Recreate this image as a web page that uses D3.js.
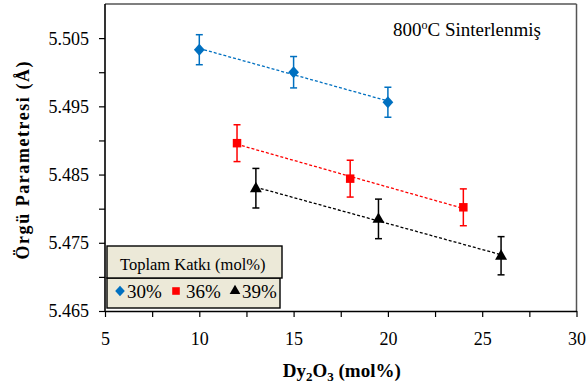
<!DOCTYPE html>
<html>
<head>
<meta charset="utf-8">
<script src="https://cdn.jsdelivr.net/npm/d3@7"></script>
<style>
  html, body { margin: 0; padding: 0; background: #fff; }
  svg { display: block; }
</style>
</head>
<body>
<svg id="chart" width="587" height="387"></svg>
<script>
// Lattice parameter vs Dy2O3 content, sintered at 800 °C
const FONT = "Liberation Serif";

const seriesNames = ["30%", "36%", "39%"];
const seriesColors = ["#0070C0", "#FF0000", "#000000"];
const seriesSymbols = ["diamond", "square", "triangle"];

const dy30 = [10, 15, 20];
const a30 = [5.5033, 5.5000, 5.4956];
const err30 = [0.0022, 0.0023, 0.0022];

const dy36 = [12, 18, 24];
const a36 = [5.4896, 5.4844, 5.4802];
const err36 = [0.0027, 0.0027, 0.0027];

const dy39 = [13, 19.5, 26];
const a39 = [5.4830, 5.4785, 5.4731];
const err39 = [0.0029, 0.0029, 0.0028];

const xTicks = [5, 7.5, 10, 12.5, 15, 17.5, 20, 22.5, 25, 27.5, 30];
const xTickLabels = [5, 10, 15, 20, 25, 30];
const yTicks = [5.465, 5.470, 5.475, 5.480, 5.485, 5.490, 5.495, 5.500, 5.505];
const yTickLabels = [5.465, 5.475, 5.485, 5.495, 5.505];

const series = [
  { x: dy30, y: a30, e: err30 },
  { x: dy36, y: a36, e: err36 },
  { x: dy39, y: a39, e: err39 }
].map((s, i) => ({ ...s, name: seriesNames[i], color: seriesColors[i], symbol: seriesSymbols[i] }));

const svg = d3.select("#chart").attr("font-family", FONT);
const plot = { left: 105, right: 576.5, top: 4, bottom: 311 };

const x = d3.scaleLinear().domain([5, 30]).range([plot.left, plot.right]);
const y = d3.scaleLinear().domain([5.465, 5.510]).range([plot.bottom, plot.top]);

// Frame: top and right edges of the plot area
svg.append("line").attr("x1", plot.left).attr("x2", plot.right)
  .attr("y1", plot.top).attr("y2", plot.top)
  .attr("stroke", "#000").attr("stroke-width", 1.2);
svg.append("line").attr("x1", plot.right).attr("x2", plot.right)
  .attr("y1", plot.top).attr("y2", plot.bottom)
  .attr("stroke", "#555").attr("stroke-width", 1.5);

// Axes
const xAxis = d3.axisBottom(x).tickValues(xTicks).tickSizeInner(6).tickSizeOuter(0)
  .tickFormat(d => xTickLabels.includes(d) ? d : "");
const gx = svg.append("g").attr("transform", `translate(0,${plot.bottom})`).call(xAxis)
  .attr("font-family", FONT).attr("font-size", 18);
gx.select(".domain").attr("stroke", "#000").attr("stroke-width", 1.6);
gx.selectAll(".tick line").attr("stroke", "#000").attr("stroke-width", 1.2);
gx.selectAll(".tick text").attr("font-family", FONT).attr("font-size", 18)
  .attr("fill", "#000").attr("dy", 0).attr("y", 34);

const yAxis = d3.axisLeft(y).tickValues(yTicks).tickSizeInner(6).tickSizeOuter(0)
  .tickFormat(d => yTickLabels.some(v => Math.abs(v - d) < 1e-9) ? d3.format(".3f")(d) : "");
const gy = svg.append("g").attr("transform", `translate(${plot.left},0)`).call(yAxis)
  .attr("font-family", FONT).attr("font-size", 18);
gy.select(".domain").attr("stroke", "#000").attr("stroke-width", 1.6)
  .attr("d", `M0,${plot.top}V${plot.bottom}`);
gy.selectAll(".tick line").attr("stroke", "#000").attr("stroke-width", 1.2);
gy.selectAll(".tick text").attr("font-family", FONT).attr("font-size", 18)
  .attr("fill", "#000").attr("x", -16).attr("dy", "0.33em");

// Axis titles
const xt = svg.append("text").attr("x", (plot.left + plot.right) / 2 + 1).attr("y", 377)
  .attr("font-family", FONT).attr("text-anchor", "middle").attr("font-weight", "bold").attr("font-size", 19);
xt.append("tspan").text("Dy");
xt.append("tspan").text("2").attr("font-size", 13).attr("dy", 4);
xt.append("tspan").text("O").attr("dy", -4);
xt.append("tspan").text("3").attr("font-size", 13).attr("dy", 4);
xt.append("tspan").text(" (mol%)").attr("dy", -4);

svg.append("text")
  .attr("transform", `translate(29,${(plot.top + plot.bottom) / 2 + 3}) rotate(-90)`)
  .attr("font-family", FONT).attr("text-anchor", "middle").attr("font-weight", "bold").attr("font-size", 18)
  .attr("textLength", 198).attr("lengthAdjust", "spacing")
  .text("Örgü  Parametresi  (Å)");

// Annotation
const ann = svg.append("text").attr("x", 393).attr("y", 36).attr("font-family", FONT).attr("font-size", 19);
ann.append("tspan").text("800");
ann.append("tspan").text("o").attr("font-size", 12).attr("dy", -7);
ann.append("tspan").text("C Sinterlenmiş").attr("dy", 7);

// Linear trendline for each series
function fit(xs, ys) {
  const mx = d3.mean(xs), my = d3.mean(ys);
  const b = d3.sum(xs, (v, i) => (v - mx) * (ys[i] - my)) / d3.sum(xs, v => (v - mx) ** 2);
  return v => my + b * (v - mx);
}

// Near-square diamond marker
const wideDiamond = {
  draw(context, size) {
    const r = Math.sqrt(size / 2);
    context.moveTo(0, -r * 1.1);
    context.lineTo(r, 0);
    context.lineTo(0, r * 1.1);
    context.lineTo(-r, 0);
    context.closePath();
  }
};

const symbolType = { diamond: wideDiamond, square: d3.symbolSquare, triangle: d3.symbolTriangle };
const symbolSize = { diamond: 58, square: 72, triangle: 62 };

series.forEach(s => {
  const f = fit(s.x, s.y);
  const x0 = d3.min(s.x), x1 = d3.max(s.x);
  svg.append("line")
    .attr("x1", x(x0)).attr("y1", y(f(x0)))
    .attr("x2", x(x1)).attr("y2", y(f(x1)))
    .attr("stroke", s.color).attr("stroke-width", 1.3).attr("stroke-dasharray", "3,2");

  const g = svg.append("g");
  s.x.forEach((xv, i) => {
    const cx = x(xv), top = y(s.y[i] + s.e[i]), bot = y(s.y[i] - s.e[i]);
    g.append("line").attr("x1", cx).attr("x2", cx).attr("y1", top).attr("y2", bot)
      .attr("stroke", s.color).attr("stroke-width", 1.5);
    [top, bot].forEach(yy => g.append("line").attr("x1", cx - 3.5).attr("x2", cx + 3.5)
      .attr("y1", yy).attr("y2", yy).attr("stroke", s.color).attr("stroke-width", 1.5));
  });
  s.x.forEach((xv, i) => {
    g.append("path")
      .attr("d", d3.symbol().type(symbolType[s.symbol]).size(symbolSize[s.symbol])())
      .attr("transform", `translate(${x(xv)},${y(s.y[i]) + (s.symbol === "triangle" ? 0.5 : 0)})`)
      .attr("fill", s.color);
  });
});

// Legend
const lg = svg.append("g").attr("font-family", FONT);
lg.append("rect").attr("x", 107).attr("y", 278).attr("width", 173).attr("height", 30)
  .attr("fill", "#ECE9D8").attr("stroke", "#000").attr("stroke-width", 1.4);
lg.append("rect").attr("x", 107).attr("y", 246).attr("width", 175).attr("height", 32)
  .attr("fill", "#ECE9D8").attr("stroke", "#000").attr("stroke-width", 1.4);
lg.append("text").attr("x", 120).attr("y", 270).attr("font-family", FONT).attr("font-size", 16.5)
  .text("Toplam Katkı (mol%)");

const legendPos = [{ sx: 120, tx: 127 }, { sx: 176, tx: 186 }, { sx: 235, tx: 242 }];
series.forEach((s, i) => {
  lg.append("path")
    .attr("d", d3.symbol().type(symbolType[s.symbol]).size(symbolSize[s.symbol] * 0.8)())
    .attr("transform", `translate(${legendPos[i].sx},291)`)
    .attr("fill", s.color);
  lg.append("text").attr("x", legendPos[i].tx).attr("y", 297.5).attr("font-family", FONT)
    .attr("font-size", 19).text(s.name);
});
</script>
</body>
</html>
